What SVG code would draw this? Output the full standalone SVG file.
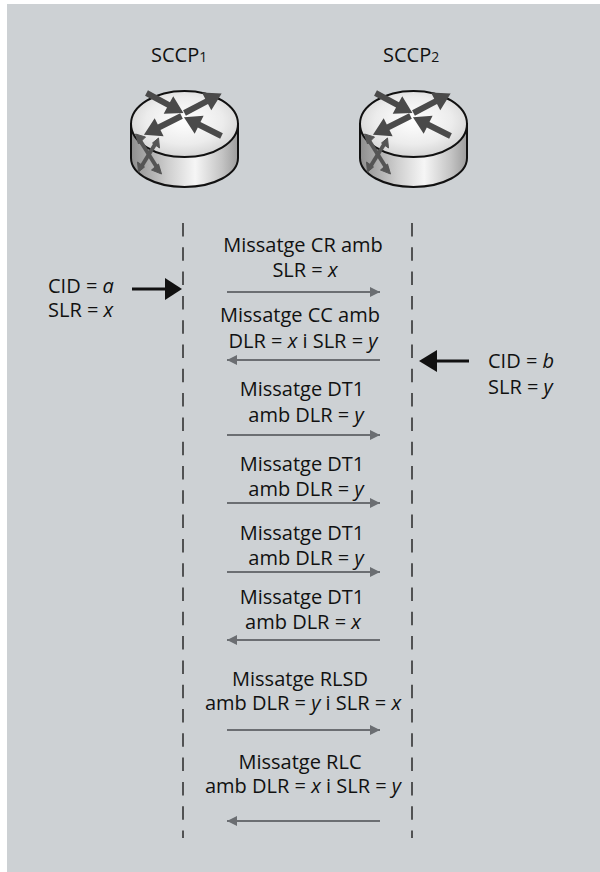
<svg xmlns="http://www.w3.org/2000/svg" xmlns:xlink="http://www.w3.org/1999/xlink" width="600" height="872" viewBox="0 0 600 872">
<style>
.t{font-family:"Open Sans","Noto Sans","DejaVu Sans",sans-serif;font-size:20px;fill:#111;text-anchor:middle}
.tl{font-family:"Open Sans","Noto Sans","DejaVu Sans",sans-serif;font-size:20px;fill:#111}
.i{font-style:italic}
.msg{stroke:#6b6e72;stroke-width:2;fill:none}
.life{stroke:#333;stroke-width:1.6;stroke-dasharray:13.5 10.8;fill:none}
.big{stroke:#111;stroke-width:3;fill:none}
</style>
<defs>
<marker id="ah" markerUnits="userSpaceOnUse" markerWidth="10" markerHeight="10" viewBox="0 0 10 10" refX="10" refY="5" orient="auto">
<path d="M0,0 L10,5 L0,10 Z" fill="#6b6e72"/>
</marker>
<linearGradient id="side" x1="0" y1="0" x2="1" y2="0">
<stop offset="0" stop-color="#8e8e8e"/>
<stop offset="0.35" stop-color="#cfcfcf"/>
<stop offset="0.6" stop-color="#f6f6f6"/>
<stop offset="0.85" stop-color="#c4c4c4"/>
<stop offset="1" stop-color="#9c9c9c"/>
</linearGradient>
<radialGradient id="top" cx="0.5" cy="0.45" r="0.6">
<stop offset="0" stop-color="#ffffff"/>
<stop offset="0.6" stop-color="#ececec"/>
<stop offset="1" stop-color="#cfcfcf"/>
</radialGradient>
<g id="ra">
<path d="M0,-3 L25,-3 L25,-10 L42,0 L25,10 L25,3 L0,3 Z" fill="#4a4a4a"/>
</g>
<g id="router">
<path d="M-53.5,0 L-53.5,34 A53.5,29 0 0 0 53.5,34 L53.5,0 Z" fill="url(#side)" stroke="#111" stroke-width="2"/>
<ellipse cx="0" cy="0" rx="53.5" ry="33" fill="url(#top)" stroke="#111" stroke-width="2"/>
<use xlink:href="#ra" transform="translate(-38,-31) rotate(28.5)"/>
<use xlink:href="#ra" transform="translate(0,-11) rotate(-27.8)"/>
<use xlink:href="#ra" transform="translate(-3,-8) rotate(153.4)"/>
<use xlink:href="#ra" transform="translate(37,12) rotate(-153.4)"/>
<g fill="#555" stroke="#555">
<path d="M-46,14 L-26,46" stroke-width="4" fill="none"/>
<path d="M-28,18 L-44,44" stroke-width="4" fill="none"/>
<path d="M-49,10 L-39,13 L-46,20 Z"/>
<path d="M-23,50 L-33,46 L-26,40 Z"/>
<path d="M-26,14 L-25,24 L-32,19 Z"/>
<path d="M-46,48 L-47,38 L-40,43 Z"/>
</g>
</g>
</defs>
<rect x="7" y="4" width="593" height="868" fill="#cdd1d4"/>
<g id="sccp1">
<text class="tl" x="151" y="62">SCCP<tspan font-size="14">1</tspan></text>
<use xlink:href="#router" transform="translate(184.5,124)"/>
</g>
<g id="sccp2">
<text class="tl" x="383" y="62">SCCP<tspan font-size="14">2</tspan></text>
<use xlink:href="#router" transform="translate(413.5,124)"/>
</g>
<g id="lifelines">
<line class="life" x1="183" y1="223" x2="183" y2="838"/>
<line class="life" x1="412" y1="223" x2="412" y2="838"/>
</g>
<g id="cid-a">
<text class="tl" x="48" y="293">CID = <tspan class="i">a</tspan></text>
<text class="tl" x="48" y="317">SLR = <tspan class="i">x</tspan></text>
</g>
<g id="cid-b">
<text class="tl" x="488" y="368">CID = <tspan class="i">b</tspan></text>
<text class="tl" x="488" y="394">SLR = <tspan class="i">y</tspan></text>
</g>
<g id="labels">
<text class="t" x="303" y="252">Missatge CR amb</text>
<text class="t" x="305" y="277">SLR = <tspan class="i">x</tspan></text>
<text class="t" x="300" y="322">Missatge CC amb</text>
<text class="t" x="303" y="348">DLR = <tspan class="i">x</tspan> i SLR = <tspan class="i">y</tspan></text>
<text class="t" x="302" y="396">Missatge DT1</text>
<text class="t" x="306" y="422">amb DLR = <tspan class="i">y</tspan></text>
<text class="t" x="302" y="471">Missatge DT1</text>
<text class="t" x="306" y="496">amb DLR = <tspan class="i">y</tspan></text>
<text class="t" x="302" y="540">Missatge DT1</text>
<text class="t" x="306" y="565">amb DLR = <tspan class="i">y</tspan></text>
<text class="t" x="302" y="604">Missatge DT1</text>
<text class="t" x="303" y="629">amb DLR = <tspan class="i">x</tspan></text>
<text class="t" x="300" y="686">Missatge RLSD</text>
<text class="t" x="303" y="710">amb DLR = <tspan class="i">y</tspan> i SLR = <tspan class="i">x</tspan></text>
<text class="t" x="300" y="769">Missatge RLC</text>
<text class="t" x="303" y="793">amb DLR = <tspan class="i">x</tspan> i SLR = <tspan class="i">y</tspan></text>
</g>
<g id="connectors">
<line class="msg" x1="227" y1="292" x2="380" y2="292" marker-end="url(#ah)"/>
<line class="msg" x1="380" y1="360" x2="227" y2="360" marker-end="url(#ah)"/>
<line class="msg" x1="227" y1="435" x2="380" y2="435" marker-end="url(#ah)"/>
<line class="msg" x1="227" y1="503" x2="380" y2="503" marker-end="url(#ah)"/>
<line class="msg" x1="227" y1="572" x2="380" y2="572" marker-end="url(#ah)"/>
<line class="msg" x1="380" y1="640" x2="227" y2="640" marker-end="url(#ah)"/>
<line class="msg" x1="227" y1="730" x2="380" y2="730" marker-end="url(#ah)"/>
<line class="msg" x1="380" y1="821" x2="227" y2="821" marker-end="url(#ah)"/>
<line class="big" x1="132" y1="289" x2="166" y2="289"/>
<path d="M165,278 L182,289 L165,300 Z" fill="#111"/>
<line class="big" x1="469" y1="361" x2="436" y2="361"/>
<path d="M437,350 L419,361 L437,372 Z" fill="#111"/>
</g>
</svg>
